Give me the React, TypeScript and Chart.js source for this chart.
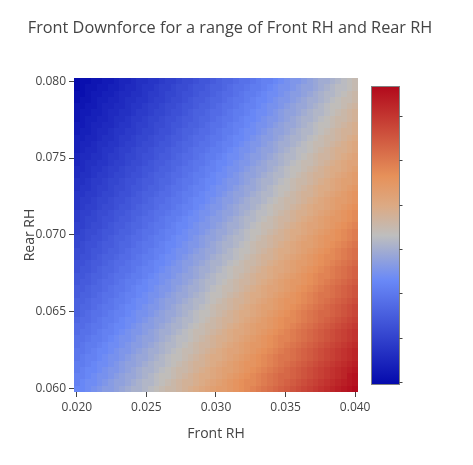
import { useEffect, useRef } from 'react';
import { Chart, registerables } from 'chart.js';

Chart.register(...registerables);

const FONT = '"Open Sans", verdana, arial, sans-serif';
const TITLE = 'Front Downforce for a range of Front RH and Rear RH';
const X_TITLE = 'Front RH';
const Y_TITLE = 'Rear RH';

const FRONT_RH = [
  0.020000, 0.020408, 0.020816, 0.021224, 0.021633, 0.022041, 0.022449, 0.022857, 0.023265, 0.023673,
  0.024082, 0.024490, 0.024898, 0.025306, 0.025714, 0.026122, 0.026531, 0.026939, 0.027347, 0.027755,
  0.028163, 0.028571, 0.028980, 0.029388, 0.029796, 0.030204, 0.030612, 0.031020, 0.031429, 0.031837,
  0.032245, 0.032653, 0.033061, 0.033469, 0.033878, 0.034286, 0.034694, 0.035102, 0.035510, 0.035918,
  0.036327, 0.036735, 0.037143, 0.037551, 0.037959, 0.038367, 0.038776, 0.039184, 0.039592, 0.040000,
];

const REAR_RH = [
  0.060000, 0.060408, 0.060816, 0.061224, 0.061633, 0.062041, 0.062449, 0.062857, 0.063265, 0.063673,
  0.064082, 0.064490, 0.064898, 0.065306, 0.065714, 0.066122, 0.066531, 0.066939, 0.067347, 0.067755,
  0.068163, 0.068571, 0.068980, 0.069388, 0.069796, 0.070204, 0.070612, 0.071020, 0.071429, 0.071837,
  0.072245, 0.072653, 0.073061, 0.073469, 0.073878, 0.074286, 0.074694, 0.075102, 0.075510, 0.075918,
  0.076327, 0.076735, 0.077143, 0.077551, 0.077959, 0.078367, 0.078776, 0.079184, 0.079592, 0.080000,
];

const X_TICKS = [0.02, 0.025, 0.03, 0.035, 0.04];
const X_TICK_LABELS = ['0.020', '0.025', '0.030', '0.035', '0.040'];
const Y_TICKS = [0.06, 0.065, 0.07, 0.075, 0.08];
const Y_TICK_LABELS = ['0.060', '0.065', '0.070', '0.075', '0.080'];
const COLORBAR_TICKS = [0, 10, 20, 30, 40, 50, 60];

// rows: one per Rear RH value (bottom 0.060 -> top 0.080), columns: Front RH
const FRONT_DOWNFORCE: number[][] = [
  [23,23,24,25,26,27,27,28,29,30,31,31,32,33,34,35,36,36,37,38,39,40,41,42,43,44,44,45,46,47,48,49,50,51,52,53,54,55,56,57,58,59,60,61,62,63,64,65,66,67],
  [22,23,24,24,25,26,27,28,28,29,30,31,32,32,33,34,35,36,37,38,38,39,40,41,42,43,44,45,46,47,48,48,49,50,51,52,53,54,55,56,57,58,59,60,61,62,63,64,65,66],
  [22,22,23,24,25,25,26,27,28,29,29,30,31,32,33,34,34,35,36,37,38,39,40,40,41,42,43,44,45,46,47,48,49,50,51,52,53,53,54,55,56,57,58,59,60,61,62,63,65,66],
  [21,22,23,23,24,25,26,26,27,28,29,30,31,31,32,33,34,35,36,36,37,38,39,40,41,42,43,43,44,45,46,47,48,49,50,51,52,53,54,55,56,57,58,59,60,61,62,63,64,65],
  [21,21,22,23,24,24,25,26,27,28,28,29,30,31,32,32,33,34,35,36,37,38,38,39,40,41,42,43,44,45,46,46,47,48,49,50,51,52,53,54,55,56,57,58,59,60,61,62,63,64],
  [20,21,22,22,23,24,25,25,26,27,28,29,29,30,31,32,33,34,34,35,36,37,38,39,40,40,41,42,43,44,45,46,47,48,49,50,51,51,52,53,54,55,56,57,58,59,60,61,62,63],
  [20,20,21,22,23,23,24,25,26,26,27,28,29,30,30,31,32,33,34,35,35,36,37,38,39,40,41,42,42,43,44,45,46,47,48,49,50,51,52,53,54,55,56,57,58,59,60,61,62,63],
  [19,20,21,21,22,23,24,24,25,26,27,27,28,29,30,31,32,32,33,34,35,36,37,37,38,39,40,41,42,43,44,45,45,46,47,48,49,50,51,52,53,54,55,56,57,58,59,60,61,62],
  [19,19,20,21,21,22,23,24,25,25,26,27,28,28,29,30,31,32,33,33,34,35,36,37,38,39,39,40,41,42,43,44,45,46,47,48,49,49,50,51,52,53,54,55,56,57,58,59,60,61],
  [18,19,19,20,21,22,22,23,24,25,26,26,27,28,29,30,30,31,32,33,34,35,35,36,37,38,39,40,41,41,42,43,44,45,46,47,48,49,50,51,52,53,54,55,56,57,58,59,60,61],
  [18,18,19,20,20,21,22,23,23,24,25,26,27,27,28,29,30,31,31,32,33,34,35,36,36,37,38,39,40,41,42,43,44,44,45,46,47,48,49,50,51,52,53,54,55,56,57,58,59,60],
  [17,18,18,19,20,21,21,22,23,24,24,25,26,27,28,28,29,30,31,32,32,33,34,35,36,37,38,38,39,40,41,42,43,44,45,46,47,48,48,49,50,51,52,53,54,55,56,57,58,59],
  [16,17,18,19,19,20,21,22,22,23,24,25,25,26,27,28,29,29,30,31,32,33,34,34,35,36,37,38,39,40,40,41,42,43,44,45,46,47,48,49,50,51,52,53,53,54,55,56,57,58],
  [16,17,17,18,19,20,20,21,22,23,23,24,25,26,26,27,28,29,30,31,31,32,33,34,35,36,36,37,38,39,40,41,42,43,43,44,45,46,47,48,49,50,51,52,53,54,55,56,57,58],
  [16,16,17,18,18,19,20,21,21,22,23,24,24,25,26,27,28,28,29,30,31,32,32,33,34,35,36,37,38,38,39,40,41,42,43,44,45,46,46,47,48,49,50,51,52,53,54,55,56,57],
  [15,16,16,17,18,19,19,20,21,22,22,23,24,25,25,26,27,28,29,29,30,31,32,33,34,34,35,36,37,38,39,40,40,41,42,43,44,45,46,47,48,49,50,51,51,52,53,54,55,56],
  [15,15,16,17,17,18,19,20,20,21,22,23,23,24,25,26,26,27,28,29,30,30,31,32,33,34,35,35,36,37,38,39,40,41,42,42,43,44,45,46,47,48,49,50,51,52,53,54,55,56],
  [14,15,15,16,17,18,18,19,20,21,21,22,23,24,24,25,26,27,27,28,29,30,31,32,32,33,34,35,36,37,37,38,39,40,41,42,43,44,45,45,46,47,48,49,50,51,52,53,54,55],
  [14,14,15,16,16,17,18,19,19,20,21,21,22,23,24,25,25,26,27,28,28,29,30,31,32,33,33,34,35,36,37,38,39,39,40,41,42,43,44,45,46,47,48,49,49,50,51,52,53,54],
  [13,14,14,15,16,17,17,18,19,19,20,21,22,22,23,24,25,26,26,27,28,29,30,30,31,32,33,34,35,35,36,37,38,39,40,41,41,42,43,44,45,46,47,48,49,50,51,52,53,54],
  [13,13,14,15,15,16,17,18,18,19,20,20,21,22,23,23,24,25,26,27,27,28,29,30,31,31,32,33,34,35,36,36,37,38,39,40,41,42,43,44,44,45,46,47,48,49,50,51,52,53],
  [12,13,13,14,15,16,16,17,18,18,19,20,21,21,22,23,24,24,25,26,27,28,28,29,30,31,32,32,33,34,35,36,37,38,38,39,40,41,42,43,44,45,46,47,48,48,49,50,51,52],
  [12,12,13,14,14,15,16,16,17,18,19,19,20,21,22,22,23,24,25,25,26,27,28,29,29,30,31,32,33,34,34,35,36,37,38,39,40,40,41,42,43,44,45,46,47,48,49,50,51,52],
  [11,12,13,13,14,15,15,16,17,17,18,19,20,20,21,22,23,23,24,25,26,26,27,28,29,30,31,31,32,33,34,35,36,36,37,38,39,40,41,42,43,43,44,45,46,47,48,49,50,51],
  [11,11,12,13,13,14,15,16,16,17,18,18,19,20,21,21,22,23,24,24,25,26,27,28,28,29,30,31,32,32,33,34,35,36,37,38,38,39,40,41,42,43,44,45,46,46,47,48,49,50],
  [10,11,12,12,13,14,14,15,16,16,17,18,19,19,20,21,22,22,23,24,25,25,26,27,28,29,29,30,31,32,33,34,34,35,36,37,38,39,40,40,41,42,43,44,45,46,47,48,49,50],
  [10,10,11,12,12,13,14,15,15,16,17,17,18,19,20,20,21,22,23,23,24,25,26,26,27,28,29,30,30,31,32,33,34,35,35,36,37,38,39,40,41,42,42,43,44,45,46,47,48,49],
  [9,10,11,11,12,13,13,14,15,15,16,17,18,18,19,20,21,21,22,23,24,24,25,26,27,27,28,29,30,31,32,32,33,34,35,36,37,37,38,39,40,41,42,43,44,45,45,46,47,48],
  [9,10,10,11,12,12,13,14,14,15,16,16,17,18,19,19,20,21,21,22,23,24,25,25,26,27,28,28,29,30,31,32,33,33,34,35,36,37,38,39,39,40,41,42,43,44,45,46,47,48],
  [8,9,10,10,11,12,12,13,14,14,15,16,17,17,18,19,19,20,21,22,22,23,24,25,26,26,27,28,29,30,30,31,32,33,34,35,35,36,37,38,39,40,41,41,42,43,44,45,46,47],
  [8,9,9,10,11,11,12,13,13,14,15,15,16,17,18,18,19,20,20,21,22,23,23,24,25,26,27,27,28,29,30,31,31,32,33,34,35,36,36,37,38,39,40,41,42,43,44,44,45,46],
  [8,8,9,9,10,11,11,12,13,13,14,15,16,16,17,18,18,19,20,21,21,22,23,24,24,25,26,27,28,28,29,30,31,32,32,33,34,35,36,37,38,38,39,40,41,42,43,44,45,46],
  [7,8,8,9,10,10,11,12,12,13,14,14,15,16,16,17,18,19,19,20,21,22,22,23,24,25,25,26,27,28,29,29,30,31,32,33,34,34,35,36,37,38,39,40,40,41,42,43,44,45],
  [7,7,8,9,9,10,11,11,12,13,13,14,15,15,16,17,17,18,19,20,20,21,22,23,23,24,25,26,26,27,28,29,30,31,31,32,33,34,35,36,36,37,38,39,40,41,42,43,43,44],
  [6,7,7,8,9,9,10,11,11,12,13,13,14,15,16,16,17,18,18,19,20,21,21,22,23,24,24,25,26,27,28,28,29,30,31,32,32,33,34,35,36,37,38,38,39,40,41,42,43,44],
  [6,6,7,8,8,9,10,10,11,12,12,13,14,14,15,16,16,17,18,19,19,20,21,22,22,23,24,25,25,26,27,28,29,29,30,31,32,33,34,34,35,36,37,38,39,40,40,41,42,43],
  [5,6,7,7,8,8,9,10,10,11,12,12,13,14,15,15,16,17,17,18,19,20,20,21,22,23,23,24,25,26,26,27,28,29,30,30,31,32,33,34,35,35,36,37,38,39,40,41,42,42],
  [5,6,6,7,7,8,9,9,10,11,11,12,13,13,14,15,15,16,17,18,18,19,20,21,21,22,23,24,24,25,26,27,27,28,29,30,31,32,32,33,34,35,36,37,37,38,39,40,41,42],
  [4,5,6,6,7,8,8,9,10,10,11,12,12,13,14,14,15,16,16,17,18,19,19,20,21,21,22,23,24,25,25,26,27,28,28,29,30,31,32,33,33,34,35,36,37,38,39,39,40,41],
  [4,5,5,6,7,7,8,8,9,10,10,11,12,12,13,14,14,15,16,17,17,18,19,19,20,21,22,22,23,24,25,26,26,27,28,29,30,30,31,32,33,34,35,35,36,37,38,39,40,41],
  [4,4,5,5,6,7,7,8,9,9,10,11,11,12,13,13,14,15,15,16,17,18,18,19,20,20,21,22,23,23,24,25,26,27,27,28,29,30,31,31,32,33,34,35,36,36,37,38,39,40],
  [3,4,4,5,6,6,7,8,8,9,9,10,11,11,12,13,13,14,15,16,16,17,18,18,19,20,21,21,22,23,24,24,25,26,27,28,28,29,30,31,32,32,33,34,35,36,37,38,38,39],
  [3,3,4,5,5,6,6,7,8,8,9,10,10,11,12,12,13,14,14,15,16,16,17,18,19,19,20,21,22,22,23,24,25,25,26,27,28,29,29,30,31,32,33,34,34,35,36,37,38,39],
  [2,3,4,4,5,5,6,7,7,8,9,9,10,11,11,12,13,13,14,15,15,16,17,17,18,19,20,20,21,22,23,23,24,25,26,26,27,28,29,30,31,31,32,33,34,35,36,36,37,38],
  [2,3,3,4,4,5,6,6,7,7,8,9,9,10,11,11,12,13,13,14,15,16,16,17,18,18,19,20,21,21,22,23,24,24,25,26,27,28,28,29,30,31,32,32,33,34,35,36,37,38],
  [2,2,3,3,4,5,5,6,6,7,8,8,9,10,10,11,12,12,13,14,14,15,16,16,17,18,19,19,20,21,22,22,23,24,25,25,26,27,28,29,29,30,31,32,33,34,34,35,36,37],
  [1,2,2,3,4,4,5,5,6,7,7,8,8,9,10,10,11,12,12,13,14,15,15,16,17,17,18,19,20,20,21,22,23,23,24,25,26,26,27,28,29,30,30,31,32,33,34,35,35,36],
  [1,1,2,3,3,4,4,5,6,6,7,7,8,9,9,10,11,11,12,13,13,14,15,15,16,17,18,18,19,20,21,21,22,23,24,24,25,26,27,27,28,29,30,31,32,32,33,34,35,36],
  [0,1,2,2,3,3,4,4,5,6,6,7,8,8,9,10,10,11,12,12,13,14,14,15,16,16,17,18,19,19,20,21,21,22,23,24,25,25,26,27,28,28,29,30,31,32,33,33,34,35],
  [0,1,1,2,2,3,3,4,5,5,6,7,7,8,8,9,10,10,11,12,12,13,14,14,15,16,17,17,18,19,19,20,21,22,22,23,24,25,26,26,27,28,29,30,30,31,32,33,34,35],
];

// colorscale (position, rgb)
const COLORSCALE: [number, number[]][] = [
  [0, [5, 10, 172]],
  [0.35, [106, 137, 247]],
  [0.5, [190, 190, 190]],
  [0.6, [220, 170, 132]],
  [0.7, [230, 145, 90]],
  [1, [178, 10, 28]],
];

function colorAt(t: number): string {
  const tt = Math.max(0, Math.min(1, t));
  for (let k = 1; k < COLORSCALE.length; k++) {
    const [p1, c1] = COLORSCALE[k];
    const [p0, c0] = COLORSCALE[k - 1];
    if (tt <= p1) {
      const f = (tt - p0) / (p1 - p0);
      const r = Math.round(c0[0] + (c1[0] - c0[0]) * f);
      const g = Math.round(c0[1] + (c1[1] - c0[1]) * f);
      const b = Math.round(c0[2] + (c1[2] - c0[2]) * f);
      return `rgb(${r},${g},${b})`;
    }
  }
  const c = COLORSCALE[COLORSCALE.length - 1][1];
  return `rgb(${c[0]},${c[1]},${c[2]})`;
}

function cellEdges(c: number[]): number[] {
  const e: number[] = [c[0] - (c[1] - c[0]) / 2];
  for (let i = 1; i < c.length; i++) e.push((c[i - 1] + c[i]) / 2);
  e.push(c[c.length - 1] + (c[c.length - 1] - c[c.length - 2]) / 2);
  return e;
}

export default function App() {
  const ref = useRef<HTMLCanvasElement>(null);

  useEffect(() => {
    const canvas = ref.current;
    if (!canvas) return;

    const xEdges = cellEdges(FRONT_RH);
    const yEdges = cellEdges(REAR_RH);
    const all = FRONT_DOWNFORCE.flat();
    const zmin = Math.min(...all);
    const zmax = Math.max(...all);

    const points: any[] = [];
    FRONT_DOWNFORCE.forEach((row, j) =>
      row.forEach((v, i) => points.push({ x: FRONT_RH[i], y: REAR_RH[j], v, i, j }))
    );

    const heatmapPlugin = {
      id: 'heatmap',
      beforeDatasetsDraw(chart: any) {
        const { ctx, scales } = chart;
        const xs = scales.x;
        const ys = scales.y;
        const px = xEdges.map((v) => Math.round(xs.getPixelForValue(v)));
        const py = yEdges.map((v) => Math.round(ys.getPixelForValue(v)));
        ctx.save();
        for (const p of chart.data.datasets[0].data) {
          ctx.fillStyle = colorAt((p.v - zmin) / (zmax - zmin));
          const x0 = px[p.i];
          const x1 = px[p.i + 1];
          const y0 = py[p.j + 1];
          const y1 = py[p.j];
          ctx.fillRect(x0, y0, x1 - x0, y1 - y0);
        }
        ctx.restore();
      },
    };

    const colorbarPlugin = {
      id: 'colorbar',
      afterDraw(chart: any) {
        const { ctx, chartArea } = chart;
        const left = Math.round(chartArea.right + 14);
        const width = 27;
        const top = Math.round(chartArea.top + 9);
        const bottom = Math.round(chartArea.bottom - 8);
        ctx.save();
        const grad = ctx.createLinearGradient(0, bottom, 0, top);
        COLORSCALE.forEach(([p, c]) => grad.addColorStop(p, `rgb(${c[0]},${c[1]},${c[2]})`));
        ctx.fillStyle = grad;
        ctx.fillRect(left, top, width, bottom - top);
        ctx.strokeStyle = 'rgb(130,130,130)';
        ctx.lineWidth = 1;
        ctx.strokeRect(left - 0.5, top - 0.5, width + 1, bottom - top + 1);
        ctx.strokeStyle = '#444';
        for (const v of COLORBAR_TICKS) {
          const y = Math.round(bottom - ((v - zmin) / (zmax - zmin)) * (bottom - top) - 2) + 0.5;
          ctx.beginPath();
          ctx.moveTo(left + width + 0.5, y);
          ctx.lineTo(left + width + 3.5, y);
          ctx.stroke();
        }
        ctx.restore();
      },
    };

    const titlePlugin = {
      id: 'mainTitle',
      afterDraw(chart: any) {
        const { ctx } = chart;
        ctx.save();
        ctx.font = `16.3px ${FONT}`;
        ctx.fillStyle = '#444';
        ctx.textAlign = 'center';
        ctx.textBaseline = 'middle';
        ctx.fillText(TITLE, 230, 28);
        ctx.restore();
      },
    };

    const chart = new Chart(canvas, {
      type: 'scatter',
      data: {
        datasets: [
          {
            data: points,
            pointRadius: 0,
            pointHoverRadius: 0,
            showLine: false,
          },
        ],
      },
      options: {
        animation: false,
        responsive: false,
        devicePixelRatio: 1,
        events: [],
        layout: { padding: { top: 78, right: 115, bottom: 0, left: 0 } },
        plugins: { legend: { display: false }, tooltip: { enabled: false }, title: { display: false } },
        scales: {
          x: {
            type: 'linear',
            min: xEdges[0],
            max: xEdges[xEdges.length - 1],
            afterBuildTicks: (s: any) => {
              s.ticks = X_TICKS.map((v) => ({ value: v }));
            },
            afterFit: (s: any) => {
              s.height = 73;
              s.paddingLeft = 0;
              s.paddingRight = 0;
              s.paddingTop = 0;
              s.paddingBottom = 0;
            },
            ticks: {
              callback: (v: any) => X_TICK_LABELS[X_TICKS.indexOf(Number(v))] ?? '',
              color: '#444',
              font: { family: FONT, size: 12 },
              padding: 3,
              maxRotation: 0,
              autoSkip: false,
            },
            grid: {
              display: true,
              drawOnChartArea: false,
              drawTicks: true,
              tickLength: 5,
              tickColor: '#444',
              tickWidth: 1,
            },
            border: { display: false },
            title: {
              display: true,
              text: X_TITLE,
              color: '#444',
              font: { family: FONT, size: 14 },
              padding: { top: 0, bottom: 22.6 },
            },
          },
          y: {
            type: 'linear',
            min: yEdges[0],
            max: yEdges[yEdges.length - 1],
            afterBuildTicks: (s: any) => {
              s.ticks = Y_TICKS.map((v) => ({ value: v }));
            },
            afterFit: (s: any) => {
              s.width = 74;
              s.paddingLeft = 0;
              s.paddingRight = 0;
              s.paddingTop = 0;
              s.paddingBottom = 0;
            },
            ticks: {
              callback: (v: any) => Y_TICK_LABELS[Y_TICKS.indexOf(Number(v))] ?? '',
              color: '#444',
              font: { family: FONT, size: 12 },
              padding: 3,
              autoSkip: false,
            },
            grid: {
              display: true,
              drawOnChartArea: false,
              drawTicks: true,
              tickLength: 5,
              tickColor: '#444',
              tickWidth: 1,
            },
            border: { display: false },
            title: {
              display: true,
              text: Y_TITLE,
              color: '#444',
              font: { family: FONT, size: 14 },
              padding: { top: 21.6, bottom: 0 },
            },
          },
        },
      },
      plugins: [heatmapPlugin, colorbarPlugin, titlePlugin],
    } as any);

    return () => chart.destroy();
  }, []);

  return (
    <div style={{ position: 'absolute', left: 0, top: 0, width: 473, height: 465, background: '#fff' }}>
      <canvas ref={ref} width={473} height={465} style={{ display: 'block', width: 473, height: 465 }} />
    </div>
  );
}
